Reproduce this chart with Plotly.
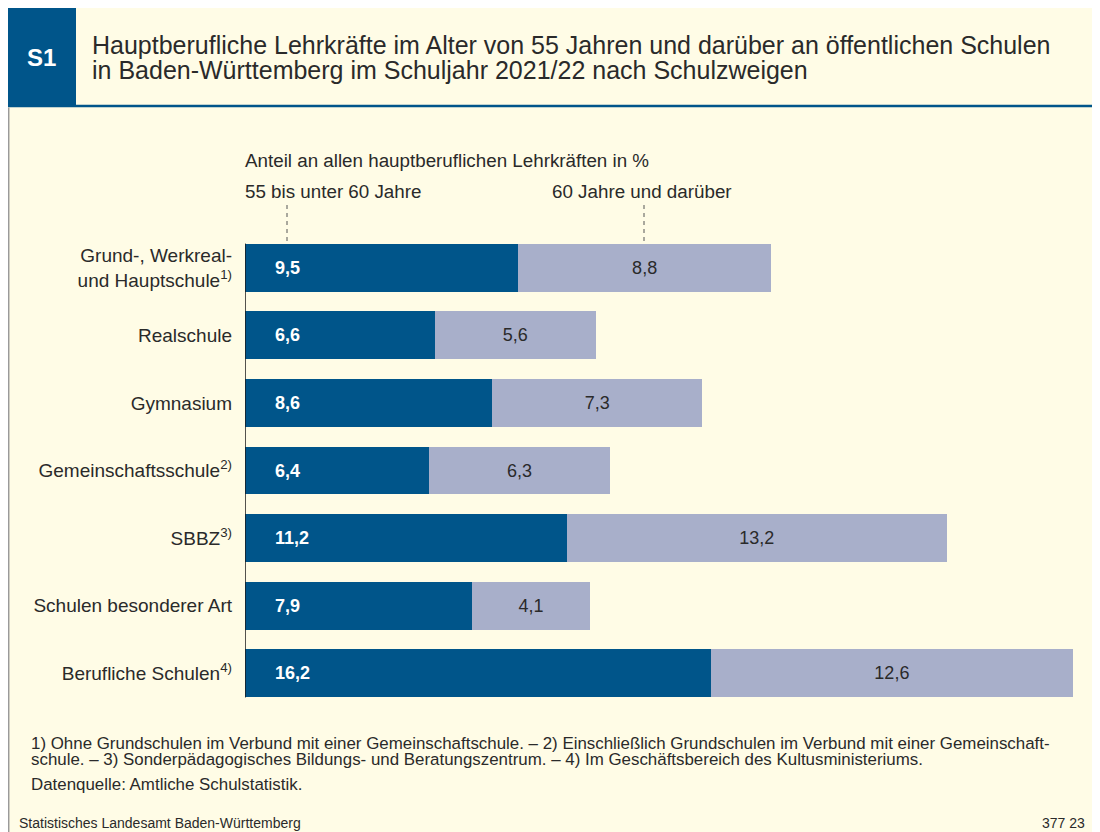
import plotly.graph_objects as go

categories = [
    "Grund-, Werkreal-<br>und Hauptschule<sup>1)</sup>",
    "Realschule",
    "Gymnasium",
    "Gemeinschaftsschule<sup>2)</sup>",
    "SBBZ<sup>3)</sup>",
    "Schulen besonderer Art",
    "Berufliche Schulen<sup>4)</sup>",
]
age_55_60 = [9.5, 6.6, 8.6, 6.4, 11.2, 7.9, 16.2]
age_60_plus = [8.8, 5.6, 7.3, 6.3, 13.2, 4.1, 12.6]
series_names = ["55 bis unter 60 Jahre", "60 Jahre und darüber"]

DARK = "#00558a"
LIGHT = "#a8afca"
CREAM = "#fffce6"
TXT = "#2a2a2a"
FONT = "Liberation Sans, Arial, sans-serif"

# figure is placed by the page at an 8px offset; coordinates below are in screen pixels
OFF = 8
W, H = 1089, 824
L, R, T, B = 245, 1073, 234, 707   # plot area in screen pixels


def fmt(v):
    return f"{v:.1f}".replace(".", ",")


def px(x):
    return (x - L) / (R - L)


def py(y):
    return (B - y) / (B - T)


fig = go.Figure()
fig.add_trace(go.Bar(
    y=categories, x=age_55_60, orientation="h", name=series_names[0],
    marker=dict(color=DARK, line=dict(width=0)),
    hoverinfo="x+y",
))
fig.add_trace(go.Bar(
    y=categories, x=age_60_plus, orientation="h", name=series_names[1],
    marker=dict(color=LIGHT, line=dict(width=0)),
    text=[fmt(v) for v in age_60_plus], textposition="inside",
    insidetextanchor="middle", textangle=0,
    textfont=dict(color=TXT, size=18, family=FONT),
    hoverinfo="x+y",
))

annotations = []
for c, v in zip(categories, age_55_60):
    annotations.append(dict(x=0, y=c, xref="x", yref="y", text=f"<b>{fmt(v)}</b>",
                            xanchor="left", xshift=28, showarrow=False,
                            font=dict(color="white", size=18, family=FONT)))


def ann(x, y, text, size, xanchor="left", color=TXT, yanchor="middle"):
    annotations.append(dict(x=px(x), y=py(y), xref="paper", yref="paper", text=text,
                            xanchor=xanchor, yanchor=yanchor, showarrow=False,
                            font=dict(size=size, family=FONT, color=color), align="left"))


# header
ann(41, 57, "<b>S1</b>", 24, xanchor="center", color="white")
ann(90, 45, "Hauptberufliche Lehrkräfte im Alter von 55 Jahren und darüber an öffentlichen Schulen", 25)
ann(90, 70, "in Baden-Württemberg im Schuljahr 2021/22 nach Schulzweigen", 25)
ann(243, 160, "Anteil an allen hauptberuflichen Lehrkräften in %", 18.8)
ann(243, 191, series_names[0], 18.8)
ann(550, 191, series_names[1], 18.8)
ann(29, 743, "1) Ohne Grundschulen im Verbund mit einer Gemeinschaftschule. – 2) Einschließlich Grundschulen im Verbund mit einer Gemeinschaft-", 16.9)
ann(29, 759, "schule. – 3) Sonderpädagogisches Bildungs- und Beratungszentrum. – 4) Im Geschäftsbereich des Kultusministeriums.", 16.9)
ann(29, 784, "Datenquelle: Amtliche Schulstatistik.", 16.9)
ann(17, 823, "Statistisches Landesamt Baden-Württemberg", 14)
ann(1087, 823, "377 23", 14, xanchor="right")

grey = "#9a9a9a"
shapes = [
    dict(type="rect", xref="paper", yref="paper", x0=px(OFF), x1=px(76), y0=py(OFF), y1=py(106),
         fillcolor=DARK, line=dict(width=0), layer="below"),
    dict(type="line", xref="paper", yref="paper", x0=px(OFF), x1=px(OFF + W), y0=py(106), y1=py(106),
         line=dict(color=DARK, width=2.5), layer="below"),
    dict(type="line", xref="paper", yref="paper", x0=px(8.7), x1=px(8.7), y0=py(107.5), y1=py(OFF + H),
         line=dict(color=grey, width=1.5), layer="below"),
    dict(type="line", xref="paper", yref="paper", x0=px(1095.5), x1=px(1095.5), y0=py(107.5), y1=py(OFF + H),
         line=dict(color=grey, width=1.5), layer="below"),
    dict(type="line", xref="paper", yref="paper", x0=px(287), x1=px(287), y0=py(205), y1=py(242),
         line=dict(color="#555555", width=1, dash="4px,4px")),
    dict(type="line", xref="paper", yref="paper", x0=px(644), x1=px(644), y0=py(205), y1=py(242),
         line=dict(color="#555555", width=1, dash="4px,4px")),
    dict(type="line", xref="x", yref="y", x0=0, x1=0, y0=-0.5 + 0.14, y1=6.5 - 0.14,
         line=dict(color="#1a1a1a", width=1.5)),
]

fig.update_layout(
    width=W, height=H,
    margin=dict(l=L - OFF, r=OFF + W - R, t=T - OFF, b=OFF + H - B, pad=0),
    paper_bgcolor=CREAM, plot_bgcolor="rgba(0,0,0,0)",
    barmode="stack", bargap=0.29,
    showlegend=False,
    xaxis=dict(range=[0, 28.8], visible=False, fixedrange=True),
    yaxis=dict(autorange="reversed", showgrid=False, zeroline=False, showline=False,
               ticks="", ticklabelstandoff=12,
               tickfont=dict(size=19, family=FONT, color=TXT), fixedrange=True),
    font=dict(family=FONT, color=TXT),
    annotations=annotations,
    shapes=shapes,
)

fig.write_html("out.html")
